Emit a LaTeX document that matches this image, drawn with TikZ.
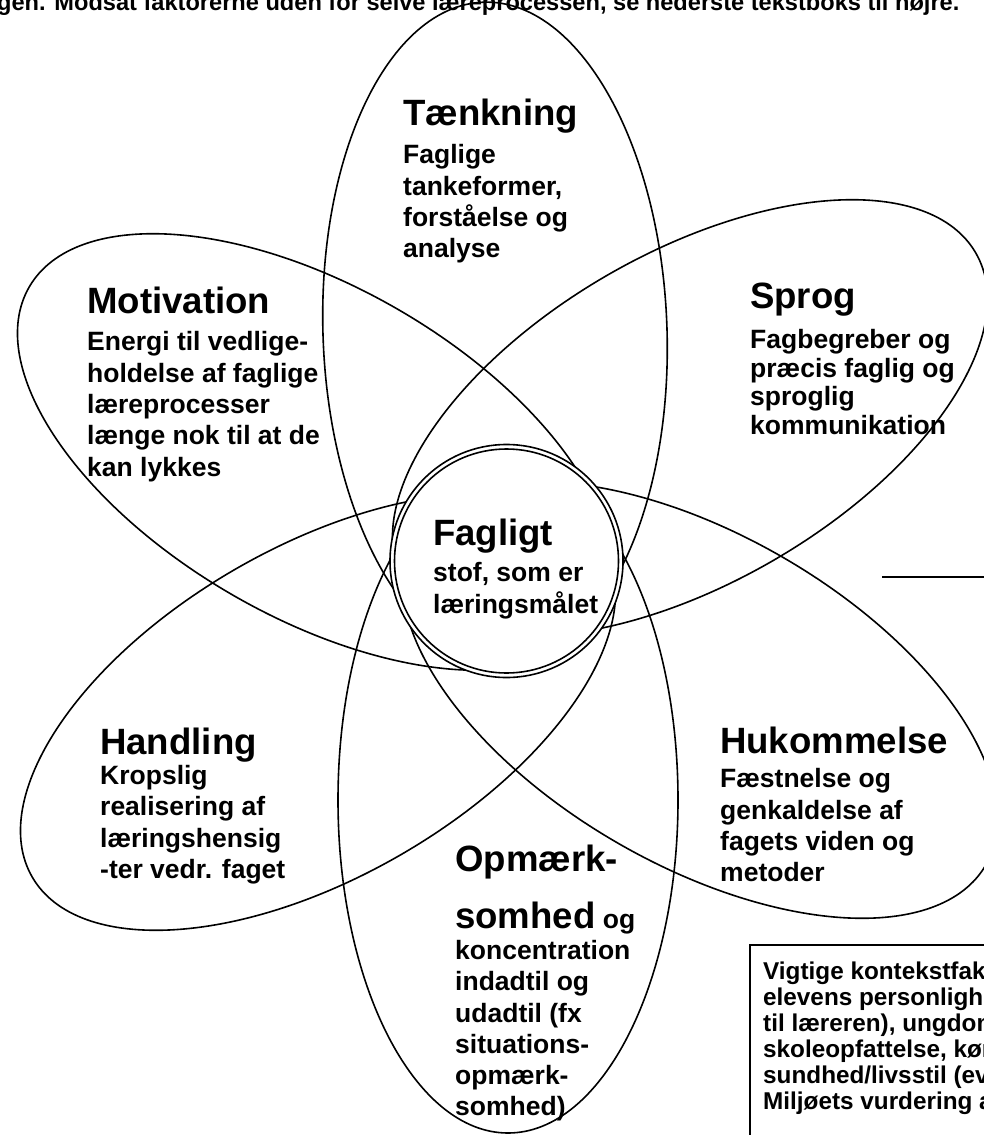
\documentclass[tikz,border=0pt]{standalone}
\usepackage{fontspec}
\setmainfont{Liberation Sans}
\usetikzlibrary{shapes.geometric}
\begin{document}
\begin{tikzpicture}[x=1pt,y=-1pt,
  petal/.style={draw, ellipse, line width=1.6pt, inner sep=0pt, minimum width=660pt, minimum height=330pt},
  core/.style={draw, circle, line width=1.6pt, inner sep=0pt},
  head/.style={font=\fontsize{36.6}{44}\selectfont\bfseries, anchor=base west, inner sep=0pt},
  body/.style={font=\fontsize{26.5}{31.3}\selectfont\bfseries, align=left, anchor=north west, inner sep=0pt},
  boxtext/.style={font=\fontsize{24.3}{26}\selectfont\bfseries, align=left, anchor=north west, inner sep=0pt},
  link/.style={line width=1.6pt}
]
\useasboundingbox (0,0) rectangle (984,1135);
\clip (0,0) rectangle (984,1135);
\fill[white] (0,0) rectangle (984,1135);

\node[font=\fontsize{23.6}{27}\selectfont\bfseries, anchor=base west, inner sep=0pt] (toptext) at (-3,10)
  {gen. Modsat faktorerne uden for selve læreprocessen, se nederste tekstboks til højre.};

\node[petal, rotate=92, minimum height=344pt] (taenk) at (495,332) {};
\node[petal, rotate=90, minimum width=666pt, minimum height=340pt] (opm) at (508,800) {};
\node[petal, rotate=-30] (motiv) at (315,452) {};
\node[petal, rotate=30] (sprog) at (690,418) {};
\node[petal, rotate=-30] (hukom) at (700,700) {};
\node[petal, rotate=30] (handl) at (318,712) {};

\node[core, fill=white, minimum size=233pt] (coreA) at (506.5,561) {};
\node[core, minimum size=224pt] (coreB) at (506.5,561) {};

% texts
\node[head] (tT) at (403,125) {Tænkning};
\node[body] (tB) at (403,144.5) {Faglige\\tankeformer,\\forståelse og\\analyse};

\node[head] (mT) at (87,313) {Motivation};
\node[body] (mB) at (87,331.5) {Energi til vedlige-\\holdelse af faglige\\læreprocesser\\længe nok til at de\\kan lykkes};

\node[head] (sT) at (750,308) {Sprog};
\node[body, font=\fontsize{26.5}{28.7}\selectfont\bfseries] (sB) at (750,329) {Fagbegreber og\\præcis faglig og\\sproglig\\kommunikation};

\node[head] (fT) at (433,545) {Fagligt};
\node[body] (fB) at (433,562.5) {stof, som er\\læringsmålet};

\node[head] (hT) at (100,754) {Handling};
\node[body] (hB) at (100,765) {Kropslig\\realisering af\\læringshensig\\-ter vedr. faget};

\node[head] (kT) at (720,753) {Hukommelse};
\node[body] (kB) at (720,768.5) {Fæstnelse og\\genkaldelse af\\fagets viden og\\metoder};

\node[head] (oT) at (455,871) {Opmærk-};
\node[head] (oT2) at (455,928) {somhed\fontsize{26.5}{31.3}\selectfont\ og};
\node[body] (oB) at (455,940) {koncentration\\indadtil og\\udadtil (fx\\situations-\\opmærk-\\somhed)};

% context box (cut by the picture edge)
\node[draw, line width=1.6pt, anchor=north west, minimum width=300pt, minimum height=260pt, inner sep=0pt] (ctxbox) at (749,944) {};
\node[boxtext] (ctxtext) at (763,962) {Vigtige kontekstfak\\elevens personlighe\\til læreren), ungdom\\skoleopfattelse, køn\\sundhed/livsstil (ev\\Miljøets vurdering a};

% connector running off to the right
\coordinate (rA) at (882,577);
\coordinate (rB) at (990,577);
\draw[link] (rA) -- (rB);
\end{tikzpicture}
\end{document}
